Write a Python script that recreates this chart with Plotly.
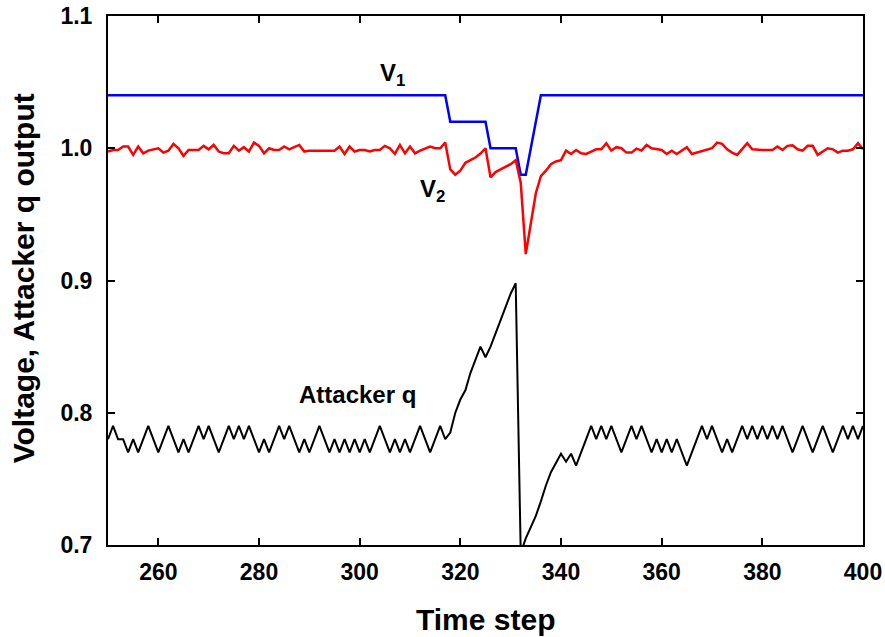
import plotly.graph_objects as go

time_steps = list(range(250, 401))

v1 = ([1.04] * 68 +            # 250-317
      [1.02] * 8 +             # 318-325
      [1.00] * 6 +             # 326-331
      [0.98, 0.98, 1.00, 1.02] +  # 332-335
      [1.04] * 65)             # 336-400

v2 = [
    0.9975, 0.9987, 0.9987, 1.0013, 1.0013, 0.9950, 1.0013, 0.9962, 0.9982, 0.9992,  # 250-259
    1.0000, 0.9967, 0.9982, 1.0033, 1.0000, 0.9942, 0.9987, 0.9987, 0.9987, 1.0018,  # 260-269
    0.9992, 1.0025, 0.9975, 0.9962, 0.9962, 1.0018, 0.9982, 1.0008, 0.9975, 1.0043,  # 270-279
    1.0018, 0.9962, 1.0000, 0.9987, 0.9987, 1.0013, 0.9992, 1.0008, 1.0025, 0.9975,  # 280-289
    0.9982, 0.9982, 0.9982, 0.9982, 0.9982, 0.9982, 1.0013, 0.9957, 1.0013, 0.9975,  # 290-299
    0.9987, 0.9987, 0.9975, 0.9987, 0.9987, 1.0018, 1.0000, 0.9957, 1.0025, 0.9962,  # 300-309
    1.0013, 0.9962, 0.9982, 1.0000, 1.0013, 1.0000, 1.0000, 1.0043, 0.9840, 0.9800,  # 310-319
    0.9830, 0.9890, 0.9910, 0.9930, 0.9960, 1.0000, 0.9780, 0.9820, 0.9840, 0.9860,  # 320-329
    0.9880, 0.9910, 0.9740, 0.9200, 0.9430, 0.9660, 0.9790, 0.9830, 0.9880, 0.9900,  # 330-339
    0.9910, 0.9982, 0.9957, 0.9987, 0.9962, 0.9957, 0.9975, 0.9992, 0.9992, 1.0038,  # 340-349
    0.9982, 1.0008, 1.0000, 0.9967, 0.9967, 0.9997, 0.9982, 1.0025, 1.0000, 0.9992,  # 350-359
    0.9987, 0.9957, 0.9982, 0.9957, 0.9982, 1.0008, 0.9957, 0.9967, 0.9982, 0.9987,  # 360-369
    1.0000, 1.0043, 1.0033, 0.9992, 0.9967, 0.9950, 0.9992, 1.0038, 0.9992, 0.9987,  # 370-379
    0.9987, 0.9987, 0.9987, 1.0013, 0.9987, 1.0018, 1.0023, 0.9992, 0.9982, 1.0018,  # 380-389
    1.0018, 0.9950, 0.9975, 1.0000, 0.9992, 0.9967, 0.9982, 0.9982, 0.9992, 1.0038,  # 390-399
    0.9992,                                                                          # 400
]

attacker_q = [
    0.78, 0.79, 0.78, 0.78, 0.77, 0.78, 0.77, 0.78, 0.79, 0.78,  # 250-259
    0.77, 0.78, 0.79, 0.78, 0.77, 0.78, 0.77, 0.78, 0.79, 0.78,  # 260-269
    0.79, 0.78, 0.77, 0.78, 0.79, 0.78, 0.79, 0.78, 0.79, 0.78,  # 270-279
    0.77, 0.78, 0.77, 0.78, 0.79, 0.78, 0.79, 0.78, 0.77, 0.78,  # 280-289
    0.77, 0.78, 0.79, 0.78, 0.77, 0.78, 0.77, 0.78, 0.77, 0.78,  # 290-299
    0.77, 0.78, 0.77, 0.78, 0.79, 0.78, 0.77, 0.78, 0.77, 0.78,  # 300-309
    0.77, 0.78, 0.79, 0.78, 0.77, 0.78, 0.79, 0.78, 0.785, 0.80,  # 310-319
    0.81, 0.817, 0.83, 0.84, 0.85, 0.842, 0.85, 0.86, 0.87, 0.88,  # 320-329
    0.89, 0.898, 0.694, 0.705, 0.713, 0.722, 0.733, 0.745, 0.755, 0.762,  # 330-339
    0.769, 0.763, 0.769, 0.76, 0.77, 0.78, 0.79, 0.78, 0.79, 0.78,  # 340-349
    0.79, 0.78, 0.77, 0.78, 0.79, 0.78, 0.79, 0.78, 0.77, 0.78,  # 350-359
    0.77, 0.78, 0.77, 0.78, 0.77, 0.76, 0.77, 0.78, 0.79, 0.78,  # 360-369
    0.79, 0.78, 0.77, 0.78, 0.77, 0.78, 0.79, 0.78, 0.79, 0.78,  # 370-379
    0.79, 0.78, 0.79, 0.78, 0.79, 0.78, 0.77, 0.78, 0.79, 0.78,  # 380-389
    0.77, 0.78, 0.79, 0.78, 0.77, 0.78, 0.79, 0.78, 0.79, 0.78,  # 390-399
    0.79,                                                        # 400
]

x_ticks = [260, 280, 300, 320, 340, 360, 380, 400]
y_ticks = [0.7, 0.8, 0.9, 1.0, 1.1]
y_tick_labels = ["0.7", "0.8", "0.9", "1.0", "1.1"]

labels = ["V<sub>1</sub>", "V<sub>2</sub>", "Attacker q"]
label_x = [306.5, 314.5, 299.5]
label_y = [1.056, 0.968, 0.8135]

x_title = "Time step"
y_title = "Voltage, Attacker q output"

FONT = "Liberation Sans, Arial, sans-serif"

fig = go.Figure()
fig.add_trace(go.Scatter(x=time_steps, y=v1, mode="lines",
                         line=dict(color="#0000ff", width=2.5), name="V1"))
fig.add_trace(go.Scatter(x=time_steps, y=v2, mode="lines",
                         line=dict(color="#ff0000", width=2.5), name="V2"))
fig.add_trace(go.Scatter(x=time_steps, y=attacker_q, mode="lines",
                         line=dict(color="#000000", width=2), name="Attacker q"))

for txt, lx, ly in zip(labels, label_x, label_y):
    fig.add_annotation(x=lx, y=ly, text="<b>" + txt + "</b>", showarrow=False,
                       font=dict(family=FONT, size=24, color="black"))

fig.add_annotation(x=0.5, y=-0.14, xref="paper", yref="paper",
                   text="<b>" + x_title + "</b>", showarrow=False,
                   xanchor="center", yanchor="middle",
                   font=dict(family=FONT, size=30, color="black"))
fig.add_annotation(x=-0.112, y=0.505, xref="paper", yref="paper",
                   text="<b>" + y_title + "</b>", showarrow=False, textangle=-90,
                   xanchor="center", yanchor="middle",
                   font=dict(family=FONT, size=30, color="black"))

axis_common = dict(showline=True, linecolor="black", linewidth=2, mirror="ticks",
                   ticks="inside", ticklen=7, tickwidth=2, tickcolor="black",
                   showgrid=False, zeroline=False, automargin=False,
                   tickfont=dict(family=FONT, size=23, color="black"))

fig.update_xaxes(range=[250, 400], tickvals=x_ticks,
                 ticktext=["<b>%d</b>" % v for v in x_ticks],
                 ticklabelstandoff=5, **axis_common)
fig.update_yaxes(range=[0.7, 1.1], tickvals=y_ticks,
                 ticktext=["<b>%s</b>" % t for t in y_tick_labels],
                 ticklabelstandoff=9, **axis_common)

fig.update_layout(width=885, height=637, showlegend=False,
                  plot_bgcolor="white", paper_bgcolor="white",
                  margin=dict(l=108, r=22, t=16, b=92))

fig.write_html("out.html", config={"displayModeBar": False},
               post_script="document.body.style.margin='0';"
                           "document.body.style.overflow='hidden';")
